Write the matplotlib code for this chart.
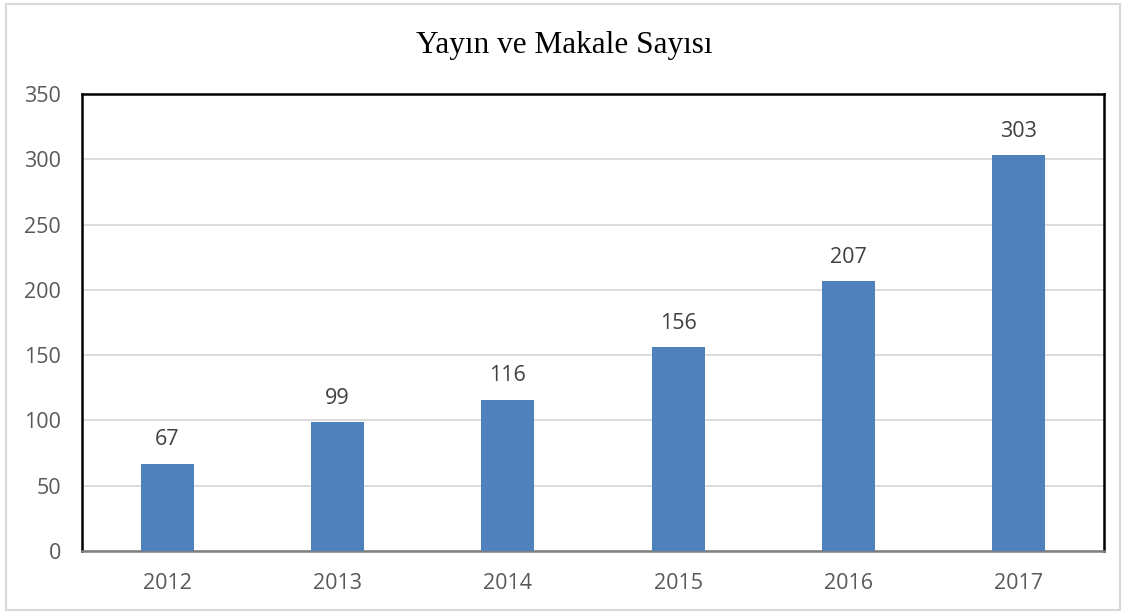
import matplotlib
matplotlib.use('Agg')
import matplotlib.pyplot as plt
from matplotlib.patches import Rectangle

years = ['2012', '2013', '2014', '2015', '2016', '2017']
counts = [67, 99, 116, 156, 207, 303]
title = 'Yayın ve Makale Sayısı'

fig = plt.figure(figsize=(11.28, 6.14), dpi=100)
ax = fig.add_axes([82/1128, 1 - 551/614, (1104-82)/1128, (551-94)/614])

x = range(len(years))
bars = ax.bar(x, counts, width=0.31, color='#4F81BD', zorder=3)
for b, v in zip(bars, counts):
    ax.text(b.get_x() + b.get_width()/2, v + 10, str(v), ha='center', va='bottom',
            fontsize=15.5, color='#404040', family='Open Sans')

ax.set_xlim(-0.5, len(years) - 0.5)
ax.set_ylim(0, 350)
ax.set_yticks(range(0, 351, 50))
ax.set_xticks(list(x))
ax.set_xticklabels(years)
ax.yaxis.grid(True, color='#D9D9D9', linewidth=1.3, zorder=0)
ax.set_axisbelow(True)
ax.tick_params(length=0, labelsize=15.5, labelcolor='#595959')
ax.tick_params(axis='y', pad=15)
ax.tick_params(axis='x', pad=16)
for lab in ax.get_xticklabels() + ax.get_yticklabels():
    lab.set_family('Open Sans')
for s in ['left', 'top', 'right']:
    ax.spines[s].set_color('black')
    ax.spines[s].set_linewidth(1.8)
ax.spines['bottom'].set_color('#7F7F7F')
ax.spines['bottom'].set_linewidth(1.8)

fig.text(0.5, 1 - 46/614, title, ha='center', va='center', fontsize=22.5,
         family='Liberation Serif', color='black')

fig.patches.append(Rectangle((6/1128, 4/614), 1114/1128, 606/614, transform=fig.transFigure,
                             fill=False, edgecolor='#D9D9D9', linewidth=1.5))

fig.savefig('out.png', dpi=100)
